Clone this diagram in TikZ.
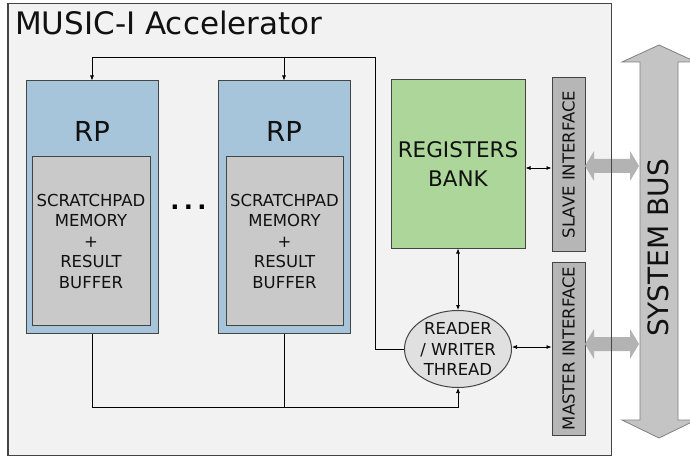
\documentclass[tikz,border=0pt]{standalone}
\usepackage{fontspec}
\setmainfont{DejaVu Sans}
\usetikzlibrary{arrows.meta,shapes.geometric,calc}
\definecolor{outerc}{HTML}{F2F2F2}
\definecolor{bordc}{HTML}{444444}
\definecolor{rpc}{HTML}{A6C4DA}
\definecolor{memc}{HTML}{C9C9C9}
\definecolor{regc}{HTML}{ADD69B}
\definecolor{ifc}{HTML}{B6B6B6}
\definecolor{rwc}{HTML}{E0E0E0}
\definecolor{busc}{HTML}{C4C4C4}
\definecolor{busb}{HTML}{808080}
\definecolor{garr}{HTML}{B3B3B3}
\definecolor{txt}{HTML}{111111}
\begin{document}
\begin{tikzpicture}[x=1pt,y=-1pt,
  box/.style={draw=bordc,line width=1pt,inner sep=0pt,anchor=center,text=txt},
  small/.style={font=\fontsize{16.5}{20.5}\selectfont,align=center,text=txt},
  conn/.style={draw=black,line width=0.7pt},
  tip/.style={-{Latex[length=5pt,width=4pt]}},
  tips/.style={{Latex[length=5pt,width=4pt]}-{Latex[length=5pt,width=4pt]}},
]
\useasboundingbox (0,0) rectangle (690,457);
\fill[white] (0,0) rectangle (690,457);

% outer accelerator box
\node[box,fill=outerc,minimum width=603pt,minimum height=451pt] (outer) at (309.5,229.5) {};
\node[anchor=base west,inner sep=0pt,text=txt,font=\fontsize{31}{36}\selectfont] (title) at (15,35) {MUSIC-I Accelerator};

% RP blocks
\node[box,fill=rpc,minimum width=132pt,minimum height=252pt] (rp1) at (92,207) {};
\node[anchor=base,inner sep=0pt,text=txt,font=\fontsize{27.5}{32}\selectfont] (rp1t) at (92,142) {RP};
\node[box,fill=memc,minimum width=118pt,minimum height=168pt,small] (mem1) at (91,241) {SCRATCHPAD\\MEMORY\\+\\RESULT\\BUFFER};

\node[box,fill=rpc,minimum width=132pt,minimum height=252pt] (rp2) at (284,207) {};
\node[anchor=base,inner sep=0pt,text=txt,font=\fontsize{27.5}{32}\selectfont] (rp2t) at (284,142) {RP};
\node[box,fill=memc,minimum width=117pt,minimum height=168pt,small] (mem2) at (284.5,241) {SCRATCHPAD\\MEMORY\\+\\RESULT\\BUFFER};

\node[anchor=base,inner sep=0pt,text=black,font=\fontsize{24}{28}\selectfont\bfseries] (dots) at (188.5,209) {.\hspace{4.4pt}.\hspace{4.4pt}.};

% registers bank
\node[box,fill=regc,minimum width=134pt,minimum height=168pt,align=center,font=\fontsize{21.5}{29}\selectfont] (regs) at (458,164) {REGISTERS\\BANK};

% interfaces
\node[box,fill=ifc,minimum width=33pt,minimum height=173pt] (slave) at (568.5,164.5) {};
\node[rotate=90,inner sep=0pt,small] (slavet) at (slave.center) {SLAVE INTERFACE};
\node[box,fill=ifc,minimum width=33pt,minimum height=173pt] (master) at (568.5,348.5) {};
\node[rotate=90,inner sep=0pt,small] (mastert) at (master.center) {MASTER INTERFACE};

% reader / writer thread
\node[box,ellipse,fill=rwc,minimum width=107pt,minimum height=77pt,small] (rw) at (458,349) {READER\\/ WRITER\\THREAD};

% connectors
\coordinate (tl) at (375,57);
\coordinate (bl) at (92,407);
\draw[conn,tip] (rw.west) -- (rw.west -| tl) -- (tl) -| (rp1.north);
\draw[conn,tip] (rp2.north |- tl) -- (rp2.north);
\draw[conn,tip] (rp1.south) -- (bl) -| (rw.south);
\draw[conn] (rp2.south) -- (rp2.south |- bl);
\draw[conn,tips] (regs.south) -- (rw.north);
\coordinate (sy) at (0,168);
\draw[conn,tips] (regs.east |- sy) -- (slave.west |- sy);
\coordinate (my) at (0,347);
\draw[conn,tips] (rw.east |- my) -- (master.west |- my);

% gray interface arrows
\fill[garr] (585,166) -- (594,151) -- (594,159) -- (630,159) -- (630,151) -- (639,166) -- (630,181) -- (630,173) -- (594,173) -- (594,181) -- cycle;
\fill[garr] (585,344) -- (594,329) -- (594,337) -- (630,337) -- (630,329) -- (639,344) -- (630,359) -- (630,351) -- (594,351) -- (594,359) -- cycle;

% outer border on top
\draw[bordc,line width=1pt] (outer.north west) rectangle (outer.south east);

% system bus
\draw[busb,fill=busc,line width=0.8pt] (659,45) -- (696,62) -- (678,62) -- (678,420) -- (696,420) -- (659,438) -- (622,420) -- (640,420) -- (640,62) -- (622,62) -- cycle;
\node[rotate=90,inner sep=0pt,text=txt,font=\fontsize{28}{32}\selectfont] (bust) at (658,248) {SYSTEM BUS};
\end{tikzpicture}
\end{document}
